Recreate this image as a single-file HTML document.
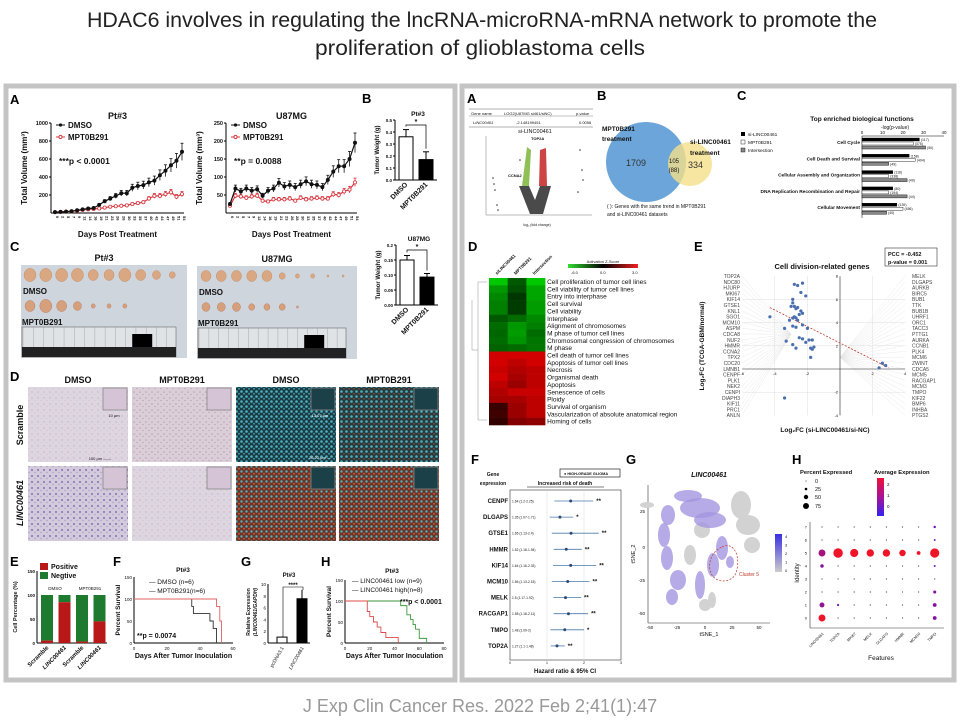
<!DOCTYPE html>
<html><head><meta charset="utf-8"><style>
body{margin:0;background:#fff;width:960px;height:720px;overflow:hidden}
svg{display:block;font-family:"Liberation Sans",sans-serif}
</style></head><body>
<svg id="fig" width="960" height="720" viewBox="0 0 960 720" xmlns="http://www.w3.org/2000/svg">
<defs>
<pattern id="pinkTex" width="6" height="6" patternUnits="userSpaceOnUse"><rect width="6" height="6" fill="#ddd5e0"/><circle cx="2" cy="2" r="0.7" fill="#c9b2c6"/><circle cx="5" cy="4.5" r="0.5" fill="#d0b8cb"/></pattern>
<pattern id="pinkTex2" width="6" height="6" patternUnits="userSpaceOnUse"><rect width="6" height="6" fill="#dacfd8"/><circle cx="2" cy="2" r="0.8" fill="#c39db5"/><circle cx="5" cy="4.5" r="0.6" fill="#b993ad"/></pattern>
<pattern id="purpTex" width="6" height="6" patternUnits="userSpaceOnUse"><rect width="6" height="6" fill="#d3cadc"/><circle cx="2" cy="2" r="1.1" fill="#8f80bb"/><circle cx="5" cy="4.5" r="0.7" fill="#a89bc9"/></pattern>
<pattern id="fluTex" width="5" height="5" patternUnits="userSpaceOnUse"><rect width="5" height="5" fill="#1b3a42"/><circle cx="1.5" cy="1.5" r="1.3" fill="#4db3c2"/><circle cx="4" cy="3.8" r="1" fill="#3a97a6"/></pattern>
<pattern id="fluTex3" width="5" height="5" patternUnits="userSpaceOnUse"><rect width="5" height="5" fill="#273a3e"/><circle cx="1.5" cy="1.5" r="1.3" fill="#4fb0bd"/><circle cx="4" cy="3.8" r="0.9" fill="#7a4a3a"/></pattern>
<pattern id="fluTex2" width="5" height="5" patternUnits="userSpaceOnUse"><rect width="5" height="5" fill="#6a3428"/><circle cx="1.5" cy="1.5" r="1.2" fill="#55b0bb"/><circle cx="4" cy="3.8" r="1" fill="#c8552e"/></pattern>
<linearGradient id="zgrad" x1="0" x2="1"><stop offset="0" stop-color="#33dd33"/><stop offset="0.5" stop-color="#000"/><stop offset="1" stop-color="#ee2222"/></linearGradient>
<linearGradient id="avgrad" x1="0" y1="1" x2="0" y2="0"><stop offset="0" stop-color="#3322ee"/><stop offset="0.5" stop-color="#aa1199"/><stop offset="1" stop-color="#ee1133"/></linearGradient>
<linearGradient id="tsgrad" x1="0" y1="1" x2="0" y2="0"><stop offset="0" stop-color="#cccccc"/><stop offset="1" stop-color="#3a2ee0"/></linearGradient>
</defs>

<text x="482" y="27" text-anchor="middle" font-size="21" fill="#222" textLength="790" lengthAdjust="spacingAndGlyphs">HDAC6 involves in regulating the lncRNA-microRNA-mRNA network to promote the</text>
<text x="480" y="55" text-anchor="middle" font-size="21" fill="#222" textLength="330" lengthAdjust="spacingAndGlyphs">proliferation of glioblastoma cells</text>
<text x="480" y="712" text-anchor="middle" font-size="18" fill="#999">J Exp Clin Cancer Res. 2022 Feb 2;41(1):47</text>

<rect x="6" y="86" width="449" height="594" fill="#fff" stroke="#c4c4c4" stroke-width="5"/>
<rect x="462" y="86" width="492" height="594" fill="#fff" stroke="#c4c4c4" stroke-width="5"/>

<g id="L" font-weight="bold"></g>
<g id="R"></g>
</svg>
<script>
const NS='http://www.w3.org/2000/svg';
function mk(tag,at,par,txt){const e=document.createElementNS(NS,tag);for(const k in at)e.setAttribute(k,at[k]);if(txt!==undefined)e.textContent=txt;par.appendChild(e);return e;}
const L=document.getElementById('L'), R=document.getElementById('R');

/* ---------- DATA ---------- */
const ptDays=[0,2,5,7,9,12,14,16,19,21,23,26,28,30,33,35,37,40,42,44,47,49,51,54];
const ptDMSO=[10,12,15,20,30,40,50,55,90,130,160,190,220,220,280,300,310,340,360,420,470,530,580,680];
const ptMPT=[10,12,15,20,25,35,40,45,50,60,70,75,80,85,100,110,120,160,190,190,210,230,180,210];
const uDMSO=[25,68,60,68,62,66,48,62,68,84,74,78,72,80,88,80,78,72,92,115,130,130,150,195];
const uMPT=[20,48,46,42,46,48,34,32,38,38,38,40,34,42,38,40,42,40,40,52,50,60,65,85];
const bPtVals=[0.36,0.17], bPtErr=[0.06,0.065];
const bUVals=[0.15,0.093], bUErr=[0.015,0.012];
const eCats=['Scramble','LINC00461','Scramble','LINC00461'];
const ePositive=[5,85,3,45];
const fDMSO=[[0,100],[35,83],[36,67],[46,50],[48,33],[50,0]];
const fMPT=[[0,100],[50,83],[52,50],[53,0]];
const gCats=['pcDNA3.1','LINC00461'], gVals=[1,7.5], gErr=[0.1,1.5];
const hLow=[[0,100],[45,89],[50,67],[53,56],[55,44],[57,33],[60,11],[66,0]];
const hHigh=[[0,100],[18,75],[20,63],[23,50],[26,38],[29,25],[33,13],[43,0]];

function label(x,y,t,par,size){const e=mk('text',{x:x,y:y,'font-size':size||13,'font-weight':'bold',fill:'#000'},par,t);return e;}
function txt(x,y,t,par,opt){const a={x:x,y:y,'font-size':7,fill:'#111'};Object.assign(a,opt||{});const e=mk('text',a,par,t);return e;}

/* ---------- Left A ---------- */
label(10,104,'A',L);
function growth(x0,x1,y0,y1,ymax,ticks,dmso,mpt,title,ptxt,name){
  const g=mk('g',{},L);
  
  
  const sx=i=>x0+4+i*(x1-x0-6)/(dmso.length-1), sy=v=>y1-v/ymax*(y1-y0);
  mk('line',{x1:x0,y1:y0,x2:x0,y2:y1,stroke:'#000','stroke-width':1},g);
  mk('line',{x1:x0,y1:y1,x2:x1,y2:y1,stroke:'#000','stroke-width':1},g);
  ticks.forEach(t=>{mk('line',{x1:x0-2,x2:x0,y1:sy(t),y2:sy(t),stroke:'#000'},g);const tt=txt(x0-3,sy(t)+2,String(t),g,{'font-size':5.5,'text-anchor':'end'});});
  dmso.forEach((v,i)=>{const tk=txt(sx(i)+1,y1+3,String(ptDays[i]),g,{'font-size':4,transform:'rotate(90 '+(sx(i)+1)+' '+(y1+3)+')'});});
  [[mpt,'#d9363e','#fff','mpt-series'],[dmso,'#111','#111','dmso-series']].forEach(([arr,c,f,n])=>{
    const s=mk('g',{},g);
    
    
    mk('polyline',{points:arr.map((v,i)=>sx(i)+','+sy(v)).join(' '),fill:'none',stroke:c,'stroke-width':1.2},s);
    arr.forEach((v,i)=>{const e=Math.max(v*0.14,2)*(y1-y0)/ymax;
      mk('line',{x1:sx(i),x2:sx(i),y1:sy(v)-e,y2:sy(v)+e,stroke:c,'stroke-width':0.8},s);
      mk('line',{x1:sx(i)-1.5,x2:sx(i)+1.5,y1:sy(v)-e,y2:sy(v)-e,stroke:c,'stroke-width':0.8},s);
      const p=mk('circle',{cx:sx(i),cy:sy(v),r:1.6,fill:f,stroke:c,'stroke-width':0.8},s);
      
      });
  });
  txt((x0+x1)/2,y0-4,title,g,{'font-size':9,'font-weight':'bold','text-anchor':'middle'});
  mk('line',{x1:x0+5,x2:x0+14,y1:y0+2,y2:y0+2,stroke:'#111'},g);mk('circle',{cx:x0+9.5,cy:y0+2,r:1.6,fill:'#111'},g);
  txt(x0+17,y0+5,'DMSO',g,{'font-size':8,'font-weight':'bold'});
  mk('line',{x1:x0+5,x2:x0+14,y1:y0+14,y2:y0+14,stroke:'#d9363e'},g);mk('circle',{cx:x0+9.5,cy:y0+14,r:1.6,fill:'#fff',stroke:'#d9363e'},g);
  txt(x0+17,y0+17,'MPT0B291',g,{'font-size':8,'font-weight':'bold'});
  txt(x0+8,y0+41,ptxt,g,{'font-size':8.5,'font-weight':'bold'});
  txt((x0+x1)/2,237,'Days Post Treatment',g,{'font-size':8,'font-weight':'bold','text-anchor':'middle'});
  const yl=txt(x0-24,(y0+y1)/2,'Total Volume (mm³)',g,{'font-size':8,'font-weight':'bold','text-anchor':'middle',transform:'rotate(-90 '+(x0-24)+' '+((y0+y1)/2)+')'});
  
  
}
growth(51,184,123,213,1000,[200,400,600,800,1000],ptDMSO,ptMPT,'Pt#3','***p < 0.0001','growth-chart-pt3');
growth(226,357,123,213,250,[50,100,150,200,250],uDMSO,uMPT,'U87MG','**p = 0.0088','growth-chart-u87mg');

/* ---------- Left B ---------- */
label(362,103,'B',L);
function wbar(x0,y0,y1,ymax,ticks,vals,err,title,name){
  const g=mk('g',{},L);
  
  
  const x1=x0+42, sy=v=>y1-v/ymax*(y1-y0);
  mk('line',{x1:x0,x2:x0,y1:y0,y2:y1,stroke:'#000'},g);mk('line',{x1:x0,x2:x1,y1:y1,y2:y1,stroke:'#000'},g);
  ticks.forEach(t=>{mk('line',{x1:x0-2,x2:x0,y1:sy(t),y2:sy(t),stroke:'#000'},g);txt(x0-3,sy(t)+2,t.toFixed(t<0.2&&ticks[1]<0.1?2:1),g,{'font-size':4.5,'text-anchor':'end'});});
  ['DMSO','MPT0B291'].forEach((c,i)=>{const bx=x0+4+i*20;
    const b=mk('rect',{x:bx,y:sy(vals[i]),width:14,height:y1-sy(vals[i]),fill:i?'#000':'#fff',stroke:'#000'},g);
    
    
    mk('line',{x1:bx+7,x2:bx+7,y1:sy(vals[i]+err[i]),y2:sy(vals[i]),stroke:'#000'},g);
    mk('line',{x1:bx+4,x2:bx+10,y1:sy(vals[i]+err[i]),y2:sy(vals[i]+err[i]),stroke:'#000'},g);
    txt(bx+9,y1+5,c,g,{'font-size':7,'text-anchor':'end',transform:'rotate(-45 '+(bx+9)+' '+(y1+5)+')'});});
  mk('polyline',{points:(x0+11)+','+(sy(vals[0]+err[0])-3)+' '+(x0+11)+','+(y0+5)+' '+(x0+31)+','+(y0+5)+' '+(x0+31)+','+(sy(vals[1]+err[1])-3),fill:'none',stroke:'#000','stroke-width':0.7},g);
  txt(x0+21,y0+4,'*',g,{'font-size':7,'text-anchor':'middle'});
  txt(x0+23,y0-4,title,g,{'font-size':6.5,'font-weight':'bold','text-anchor':'middle'});
  txt(x0-16,(y0+y1)/2,'Tumor Weight (g)',g,{'font-size':6,'font-weight':'bold','text-anchor':'middle',transform:'rotate(-90 '+(x0-16)+' '+((y0+y1)/2)+')'});
}
wbar(395,120,180,0.5,[0,0.1,0.2,0.3,0.4,0.5],bPtVals,bPtErr,'Pt#3','tumor-weight-pt3');
wbar(396,245,305,0.20,[0,0.05,0.10,0.15,0.20],bUVals,bUErr,'U87MG','tumor-weight-u87mg');

/* ---------- Left C ---------- */
label(10,251,'C',L);
function photo(x,y,w,h,title,top,bot,name){
  const g=mk('g',{},L);
  
  
  mk('rect',{x:x,y:y,width:w,height:h,fill:'#cfd5dc'},g);
  txt(x+w/2,y-4,title,g,{'font-size':9,'font-weight':'bold','text-anchor':'middle'});
  top.forEach((r,i)=>mk('ellipse',{cx:x+9+i*w/10.5,cy:y+10,rx:r,ry:r*1.1,fill:'#d9a882',stroke:'#c4906a','stroke-width':0.5},g));
  bot.forEach((r,i)=>mk('ellipse',{cx:x+9+i*w/10.5,cy:y+41,rx:r,ry:r*1.1,fill:'#d7a07d',stroke:'#b98062','stroke-width':0.5},g));
  txt(x+2,y+29,'DMSO',g,{'font-size':8,'font-weight':'bold'});
  txt(x+1,y+60,'MPT0B291',g,{'font-size':8,'font-weight':'bold'});
  mk('rect',{x:x+1,y:y+62,width:w-12,height:30,fill:'#dfe3e6',stroke:'#555','stroke-width':0.5},g);
  for(let i=0;i<15;i++)mk('line',{x1:x+2+i*(w-12)/15,x2:x+2+i*(w-12)/15,y1:y+62,y2:y+82,stroke:'#999','stroke-width':0.4},g);
  mk('rect',{x:x+1,y:y+82,width:w-12,height:10,fill:'#222'},g);
  mk('rect',{x:x+w*0.67,y:y+69,width:20,height:13,fill:'#000'},g);
}
photo(21,265,166,93,'Pt#3',[6,6,6,6,5,5,6,5,4,3],[5,6,5,4,2,2,2],'tumor-photo-pt3');
photo(197,266,160,93,'U87MG',[5,5,5,5,5,3,2,2,1,1],[4,4,4,3,3,3,1],'tumor-photo-u87mg');

/* ---------- Left D ---------- */
label(10,381,'D',L);
const dCols=['DMSO','MPT0B291','DMSO','MPT0B291'];
const dX=[28,132,236,339];
const dFill=[['url(#pinkTex)','url(#pinkTex2)','url(#fluTex)','url(#fluTex3)'],['url(#purpTex)','url(#pinkTex)','url(#fluTex2)','url(#fluTex2)']];
dCols.forEach((c,i)=>{const t=txt(dX[i]+50,383,c,L,{'font-size':9,'font-weight':'bold','text-anchor':'middle'});});
[0,1].forEach(r=>dX.forEach((x,i)=>{const y=r?466:387;
  const im=mk('rect',{x:x,y:y,width:100,height:75,fill:dFill[r][i]},L);
  
  
  mk('rect',{x:x+75,y:y+1,width:24,height:22,fill:i<2?'#d5c4d5':'#1c4048',stroke:'#888','stroke-width':0.8},L);}));
txt(23,425,'Scramble',L,{'font-size':9,'text-anchor':'middle',transform:'rotate(-90 23 425)'});
txt(23,503,'LINC00461',L,{'font-size':9,'font-style':'italic','text-anchor':'middle',transform:'rotate(-90 23 503)'});
txt(114,417,'10 μm',L,{'font-size':4,'font-weight':'normal','text-anchor':'middle'});
txt(100,460,'100 μm ——',L,{'font-size':4,'font-weight':'normal','text-anchor':'middle'});
txt(320,417,'13.07 μm',L,{'font-size':4,'font-weight':'normal','fill':'#fff','text-anchor':'middle'});
txt(320,459,'26.22 μm —',L,{'font-size':4,'font-weight':'normal','fill':'#fff','text-anchor':'middle'});

/* ---------- Left E ---------- */
label(10,566,'E',L);
(function(){const g=mk('g',{},L);
  
  
  const x0=37,y0=571,y1=643,sy=v=>y1-v/150*(y1-y0);
  mk('line',{x1:x0,x2:x0,y1:y0,y2:y1,stroke:'#000'},g);mk('line',{x1:x0,x2:107,y1:y1,y2:y1,stroke:'#000'},g);
  [0,50,100,150].forEach(t=>txt(x0-2,sy(t)+2,String(t),g,{'font-size':4.5,'text-anchor':'end'}));
  eCats.forEach((c,i)=>{const bx=x0+4+i*17.5;
    const n=mk('rect',{x:bx,y:sy(100),width:12,height:sy(ePositive[i])-sy(100),fill:'#1e7a2e'},g);
    
    
    const p=mk('rect',{x:bx,y:sy(ePositive[i]),width:12,height:y1-sy(ePositive[i]),fill:'#b81818'},g);
    
    
    txt(bx+8,y1+5,c,g,{'font-size':6,'font-style':i%2?'italic':'normal','text-anchor':'end',transform:'rotate(-45 '+(bx+8)+' '+(y1+5)+')'});});
  mk('rect',{x:40,y:563,width:8,height:7,fill:'#b81818'},g);txt(51,569,'Positive',g,{'font-size':7});
  mk('rect',{x:40,y:572,width:8,height:7,fill:'#1e7a2e'},g);txt(51,578,'Negtive',g,{'font-size':7});
  txt(55,590,'DMSO',g,{'font-size':4.5,'font-weight':'normal','text-anchor':'middle'});txt(90,590,'MPT0B291',g,{'font-size':4.5,'font-weight':'normal','text-anchor':'middle'});
  txt(17,607,'Cell Percentage (%)',g,{'font-size':5.5,'text-anchor':'middle',transform:'rotate(-90 17 607)'});
})();

function surv(x0,x1,y0,y1,xmax,series,colors,name){
  const g=mk('g',{},L);
  
  
  const sx=v=>x0+v/xmax*(x1-x0), sy=v=>y1-v/150*(y1-y0);
  mk('line',{x1:x0,x2:x0,y1:y0,y2:y1,stroke:'#000'},g);mk('line',{x1:x0,x2:x1,y1:y1,y2:y1,stroke:'#000'},g);
  [0,50,100,150].forEach(t=>txt(x0-2,sy(t)+2,String(t),g,{'font-size':4.5,'font-weight':'normal','text-anchor':'end'}));
  for(let t=0;t<=xmax;t+=20)txt(sx(t),y1+7,String(t),g,{'font-size':4.5,'font-weight':'normal','text-anchor':'middle'});
  series.forEach((s,k)=>{let p='';s.forEach((pt,i)=>{if(i)p+=' '+sx(pt[0])+','+sy(s[i-1][1]);p+=' '+sx(pt[0])+','+sy(pt[1]);});
    const l=mk('polyline',{points:p,fill:'none',stroke:colors[k],'stroke-width':0.9},g);
    
    });
  txt((x0+x1)/2,y1+15,'Days After Tumor Inoculation',g,{'font-size':7,'text-anchor':'middle'});
  txt(x0-14,(y0+y1)/2,'Percent Survival',g,{'font-size':6.5,'text-anchor':'middle',transform:'rotate(-90 '+(x0-14)+' '+((y0+y1)/2)+')'});
  return g;
}
label(113,566,'F',L);
let gF=surv(134,233,577,643,60,[fDMSO,fMPT],['#333','#e06060'],'survival-chart-mpt');
txt(183,572,'Pt#3',gF,{'font-size':6.5,'text-anchor':'middle'});
txt(149,584,'— DMSO       (n=6)',gF,{'font-size':6.5,'font-weight':'normal'});
txt(149,593,'— MPT0B291(n=6)',gF,{'font-size':6.5,'font-weight':'normal'});
txt(137,638,'**p = 0.0074',gF,{'font-size':7});
label(241,566,'G',L);
(function(){const g=mk('g',{},L);
  
  
  const x0=268,y0=584,y1=643,sy=v=>y1-v/10*(y1-y0);
  mk('line',{x1:x0,x2:x0,y1:y0,y2:y1,stroke:'#000'},g);mk('line',{x1:x0,x2:310,y1:y1,y2:y1,stroke:'#000'},g);
  [0,2,4,6,8,10].forEach(t=>txt(x0-2,sy(t)+2,String(t),g,{'font-size':4.5,'font-weight':'normal','text-anchor':'end'}));
  gCats.forEach((c,i)=>{const bx=x0+9+i*20;
    const b=mk('rect',{x:bx,y:sy(gVals[i]),width:10,height:y1-sy(gVals[i]),fill:i?'#000':'#fff',stroke:'#000'},g);
    
    
    mk('line',{x1:bx+5,x2:bx+5,y1:sy(gVals[i]+gErr[i]),y2:sy(gVals[i]),stroke:'#000'},g);
    txt(bx+7,y1+5,c,g,{'font-size':5,'font-weight':'normal','font-style':i?'italic':'normal','text-anchor':'end',transform:'rotate(-60 '+(bx+7)+' '+(y1+5)+')'});});
  mk('polyline',{points:'283,637 283,587 303,587 303,590',fill:'none',stroke:'#000','stroke-width':0.6},g);
  txt(293,587,'****',g,{'font-size':6,'text-anchor':'middle'});
  txt(289,577,'Pt#3',g,{'font-size':6,'text-anchor':'middle'});
  txt(250,612,'Relative Expression',g,{'font-size':5,'text-anchor':'middle',transform:'rotate(-90 250 612)'});
  txt(257,612,'(LINC00461/GAPDH)',g,{'font-size':5,'font-style':'italic','text-anchor':'middle',transform:'rotate(-90 257 612)'});
})();
label(321,566,'H',L);
let gH=surv(345,444,580,643,80,[hLow,hHigh],['#3a9a3a','#e04a4a'],'survival-chart-linc00461');
txt(392,573,'Pt#3',gH,{'font-size':6.5,'text-anchor':'middle'});
txt(352,583,'— LINC00461 low (n=9)',gH,{'font-size':6.5,'font-weight':'normal'});
txt(352,592,'— LINC00461 high(n=8)',gH,{'font-size':6.5,'font-weight':'normal'});
txt(400,604,'***p < 0.0001',gH,{'font-size':7});

/* ================= RIGHT PANEL ================= */
label(467,103,'A',R);
(function(){const g=mk('g',{},R);
  
  
  mk('line',{x1:469,x2:593,y1:109,y2:109,stroke:'#666','stroke-width':0.6},g);
  mk('line',{x1:469,x2:593,y1:116,y2:116,stroke:'#666','stroke-width':0.4},g);
  mk('line',{x1:469,x2:593,y1:127,y2:127,stroke:'#666','stroke-width':0.6},g);
  txt(471,115,'Gene name',g,{'font-size':4});txt(504,115,'LOG2(U87MG si461/siNC)',g,{'font-size':4});txt(576,115,'p-value',g,{'font-size':4});
  txt(473,124,'LINC00461',g,{'font-size':4,'font-style':'italic'});txt(516,124,'-2.148199451',g,{'font-size':4});txt(579,124,'0.0056',g,{'font-size':4});
  txt(535,133,'si-LINC00461',g,{'font-size':5.5,'text-anchor':'middle'});
  mk('polygon',{points:'519,186 529,186 535,200 540,186 551,186 543,214 530,214',fill:'#4a4a4a'},g);
  mk('polygon',{points:'522,186 529,186 531,150 527,147',fill:'#8fc055'},g);
  mk('polygon',{points:'539,186 547,186 546,148 540,150',fill:'#cc4444'},g);
  [[520,160],[493,178],[494,184],[495,190],[580,150],[582,170],[583,180],[578,192],[497,205],[498,210]].forEach(p=>mk('circle',{cx:p[0],cy:p[1],r:0.8,fill:'#333'},g));
  mk('line',{x1:486,x2:486,y1:136,y2:215,stroke:'#555','stroke-width':0.4},g);
  mk('line',{x1:486,x2:592,y1:215,y2:215,stroke:'#555','stroke-width':0.4},g);
  txt(531,140,'TOP2A',g,{'font-size':4,'font-weight':'bold'});txt(508,177,'CCNA2',g,{'font-size':4,'font-weight':'bold'});
  txt(537,226,'log₂ (fold change)',g,{'font-size':3.5,'text-anchor':'middle'});
})();

label(597,100,'B',R);
(function(){const g=mk('g',{},R);
  
  
  const a=mk('circle',{cx:646,cy:162,r:40,fill:'#5b9bd5',opacity:0.9},g);
  
  
  const b=mk('circle',{cx:690,cy:164,r:22,fill:'#f5e08a',opacity:0.8},g);
  
  
  txt(602,131,'MPT0B291',g,{'font-size':6.5,'font-weight':'bold'});txt(602,141,'treatment',g,{'font-size':6.5,'font-weight':'bold'});
  txt(690,144,'si-LINC00461',g,{'font-size':6.5,'font-weight':'bold'});txt(690,155,'treatment',g,{'font-size':6.5,'font-weight':'bold'});
  txt(626,166,'1709',g,{'font-size':9,fill:'#333'});txt(688,168,'334',g,{'font-size':9,fill:'#333'});
  txt(674,163,'105',g,{'font-size':6,'text-anchor':'middle'});txt(674,172,'(88)',g,{'font-size':6,'text-anchor':'middle'});
  txt(607,208,'( ): Genes with the same trend in MPT0B291',g,{'font-size':5});
  txt(607,216,'and si-LINC00461 datasets',g,{'font-size':5});
})();

label(737,100,'C',R);
const cCats=['Cell Cycle','Cell Death and Survival','Cellular Assembly and Organization','DNA Replication Recombination and Repair','Cellular Movement'];
const cSi=[28,23,15,15,17], cMpt=[25,26,13,13,20], cInt=[31,13,22,22,12];
const cSiN=['117','158','116','80','139'], cMptN=['375','404','338','194','456'], cIntN=['50','49','49','44','40'];
(function(){const g=mk('g',{},R);
  
  
  const x0=862,sx=v=>x0+v/40*82;
  txt(862,121,'Top enriched biological functions',g,{'font-size':6.5,'font-weight':'bold','text-anchor':'middle'});
  txt(895,129,'-log(p-value)',g,{'font-size':5,'text-anchor':'middle'});
  mk('line',{x1:x0,x2:sx(40),y1:136,y2:136,stroke:'#000','stroke-width':0.5},g);
  [0,10,20,30,40].forEach(t=>txt(sx(t),134,String(t),g,{'font-size':4.5,'text-anchor':'middle'}));
  mk('line',{x1:x0,x2:x0,y1:136,y2:218,stroke:'#000','stroke-width':0.5},g);
  cCats.forEach((c,i)=>{const y=138+i*16.3;
    txt(x0-2,y+6,c,g,{'font-size':4.8,'font-weight':'bold','text-anchor':'end'});
    [[cSi,'#000',cSiN],[cMpt,'#fff',cMptN],[cInt,'#888',cIntN]].forEach(([arr,f,nn],k)=>{
      const b=mk('rect',{x:x0,y:y+k*4,width:sx(arr[i])-x0,height:3,fill:f,stroke:'#000','stroke-width':0.4},g);
      
      
      txt(sx(arr[i])+1.5,y+k*4+3,'('+nn[i]+')',g,{'font-size':3.5});});});
  mk('rect',{x:741,y:132,width:4,height:4,fill:'#000'},g);txt(748,136,'si-LINC00461',g,{'font-size':4.8});
  mk('rect',{x:741,y:140,width:4,height:4,fill:'#fff',stroke:'#000','stroke-width':0.4},g);txt(748,144,'MPT0B291',g,{'font-size':4.8});
  mk('rect',{x:741,y:148,width:4,height:4,fill:'#888',stroke:'#000','stroke-width':0.4},g);txt(748,152,'Intersection',g,{'font-size':4.8});
})();

label(468,251,'D',R);
const dRows=['Cell proliferation of tumor cell lines','Cell viability of tumor cell lines','Entry into interphase','Cell survival','Cell viability','Interphase','Alignment of chromosomes','M phase of tumor cell lines','Chromosomal congression of chromosomes','M phase','Cell death of tumor cell lines','Apoptosis of tumor cell lines','Necrosis','Organismal death','Apoptosis','Senescence of cells','Ploidy','Survival of organism','Vascularization of absolute anatomical region','Homing of cells'];
const zSi=[-4,-2.5,-2.2,-2,-2,-1.2,-1.6,-1.5,-1.6,-1.4,3,3,2.8,3,2.6,2.4,2.2,0.3,0.4,0.2];
const zMpt=[-1.2,-1,-0.5,-0.6,-0.6,-1.6,-2.5,-2.6,-2.4,-1.6,3,2.6,2.4,2.2,2,2.8,2.2,2,2,1.6];
const zInt=[-4,-2.8,-2.8,-2.6,-2.6,-2.2,-2,-1.6,-1.8,-1.8,3,3,2.6,2.6,2.6,2.8,2.6,2.6,2.6,1.8];
(function(){const g=mk('g',{},R);
  
  
  const col=z=>{const t=Math.min(Math.abs(z)/3.5,1);return z<0?'rgb(0,'+Math.round(30+170*t)+',0)':'rgb('+Math.round(40+200*t)+',0,0)';};
  const x0=489,w=18.7,y0=278,h=7.35;
  [zSi,zMpt,zInt].forEach((arr,c)=>arr.forEach((z,r)=>{const cell=mk('rect',{x:x0+c*w,y:y0+r*h,width:w+0.3,height:h+0.3,fill:col(z)},g);
    
    }));
  dRows.forEach((t,r)=>txt(x0+3*w+2,y0+r*h+6,t,g,{'font-size':6.5,fill:'#111'}));
  ['siLINC00461','MPT0B291','Intersection'].forEach((t,c)=>txt(x0+c*w+8,y0-3,t,g,{'font-size':4.5,'font-weight':'bold',transform:'rotate(-45 '+(x0+c*w+8)+' '+(y0-3)+')'}));
  mk('rect',{x:568,y:264,width:70,height:4,fill:'url(#zgrad)'},g);
  txt(603,263,'Activation Z-Score',g,{'font-size':4,'text-anchor':'middle'});
  txt(571,274,'-6.0',g,{'font-size':4});txt(600,274,'0.0',g,{'font-size':4});txt(632,274,'3.0',g,{'font-size':4});
  mk('path',{d:'M487,282 H478 V420 H487 M478,350 H472 V300',fill:'none',stroke:'#777','stroke-width':0.4},g);
})();

label(694,251,'E',R);
const eGenesL=['TOP2A','NDC80','HJURP','MKI67','KIF14','GTSE1','KNL1','SGO1','MCM10','ASPM','CDCA8','NUF2','HMMR','CCNA2','TPX2','CDC20','LMNB1','CENPF','PLK1','NEK2','CENPI','DIAPH3','KIF11','PRC1','ANLN'];
const eGenesR=['MELK','DLGAPS','AURKB','BIRC5','BUB1','TTK','BUB1B','UHRF1','ORC1','TACC3','PTTG1','AURKA','CCNB1','PLK4','MCM6','ZWINT','CDCA5','MCM5','RACGAP1','MCM3','TMPO','KIF22','BMP6','INHBA','PTGS2'];
const eX=[-2.8,-2.6,-2.3,-2.4,-2.1,-2.9,-2.9,-2.8,-3,-2.7,-2.6,-2.4,-2.5,-2.3,-2.9,-2.7,-2.8,-3.1,-2.6,-4.3,-3.4,-2.9,-2.7,-2.3,-2,-3.3,-2.5,-2.3,-1.9,-1.7,-1.6,-2.1,-2.9,-2.7,-1.8,-1.7,-1.8,2.6,2.8,2.4,-3.4];
const eY=[7.3,7.2,7.4,6.6,6.3,6,5.7,5.4,5.4,5.2,5.3,5,4.7,4.8,4.4,4.4,4.5,4.2,4.2,4.5,3.5,3.7,3.6,3.8,3.5,2.4,2.7,2.6,2.5,2.5,1.9,2.3,2.1,1.8,1.8,1.7,1,0.5,0.3,0.1,-2.5];
(function(){const g=mk('g',{},R);
  
  
  const sx=v=>840+v*16.3, sy=v=>369-v*11.6;
  [-4,-2,2].forEach(t=>mk('line',{x1:sx(t),x2:sx(t),y1:sy(8),y2:sy(-4),stroke:'#ddd','stroke-width':0.5},g));
  [6,4,2,-2].forEach(t=>mk('line',{x1:sx(-6),x2:sx(4),y1:sy(t),y2:sy(t),stroke:'#ddd','stroke-width':0.5},g));
  eGenesL.forEach((n,i)=>{mk('line',{x1:742,y1:276+i*5.8,x2:sx(-3),y2:sy(3),stroke:'#e4e4e4','stroke-width':0.4},g);txt(740,278+i*5.8,n,g,{'font-size':5,'text-anchor':'end',fill:'#444'});});
  eGenesR.forEach((n,i)=>{mk('line',{x1:905,y1:276+i*5.8,x2:sx(0),y2:sy(1),stroke:'#e4e4e4','stroke-width':0.4},g);txt(912,278+i*5.8,n,g,{'font-size':5,fill:'#444'});});
  mk('line',{x1:sx(0),x2:sx(0),y1:sy(8),y2:sy(-4),stroke:'#222','stroke-width':0.6},g);
  mk('line',{x1:sx(-6),x2:sx(4),y1:sy(0),y2:sy(0),stroke:'#222','stroke-width':0.6},g);
  [-6,-4,-2,2,4].forEach(t=>txt(sx(t),sy(0)+6,String(t),g,{'font-size':4,'text-anchor':'middle'}));
  [8,6,4,2,-2,-4].forEach(t=>txt(sx(0)-2,sy(t)+1.5,String(t),g,{'font-size':4,'text-anchor':'end'}));
  mk('line',{x1:sx(-4.3),y1:sy(5.3),x2:sx(3),y2:sy(0.1),stroke:'#c0392b','stroke-width':0.8,'stroke-dasharray':'2,1.5'},g);
  eX.forEach((x,i)=>{const p=mk('circle',{cx:sx(x),cy:sy(eY[i]),r:1.6,fill:'#4a6fb0'},g);
    
    });
  txt(822,269,'Cell division-related genes',g,{'font-size':7.5,'font-weight':'bold','text-anchor':'middle'});
  mk('rect',{x:885,y:248,width:52,height:18,fill:'#fff',stroke:'#333','stroke-width':0.6},g);
  txt(888,256,'PCC = -0.452',g,{'font-size':5.5,'font-weight':'bold'});txt(888,264,'p-value = 0.001',g,{'font-size':5.5,'font-weight':'bold'});
  txt(825,432,'Log₂FC (si-LINC00461/si-NC)',g,{'font-size':6.5,'font-weight':'bold','text-anchor':'middle'});
  txt(704,346,'Log₂FC (TCGA-GBM/normal)',g,{'font-size':6.5,'font-weight':'bold','text-anchor':'middle',transform:'rotate(-90 704 346)'});
})();

label(471,464,'F',R);
const fGenes=['CENPF','DLGAPS','GTSE1','HMMR','KIF14','MCM10','MELK','RACGAP1','TMPO','TOP2A'];
const fHR=[1.64,1.35,1.65,1.52,1.64,1.56,1.5,1.58,1.48,1.27];
const fLo=[1.2,1.07,1.13,1.18,1.16,1.13,1.17,1.18,1.09,1.1];
const fHi=[2.25,1.71,2.4,1.94,2.33,2.15,1.92,2.11,2,1.48];
const fStars=['**','*','**','**','**','**','**','**','*','**'];
(function(){const g=mk('g',{},R);
  
  
  const sx=v=>510+v/3*111;
  mk('rect',{x:510,y:490,width:111,height:170,fill:'none',stroke:'#333','stroke-width':0.6},g);
  [1,2].forEach(t=>mk('line',{x1:sx(t),x2:sx(t),y1:490,y2:660,stroke:'#ddd','stroke-width':0.5},g));
  [0,1,2,3].forEach(t=>txt(sx(t),664,String(t),g,{'font-size':3.5,'text-anchor':'middle'}));
  fGenes.forEach((n,i)=>{const y=501+i*16.1;
    txt(508,y+2,n,g,{'font-size':6,'font-weight':'bold','text-anchor':'end'});
    txt(512,y+1.5,fHR[i]+' ('+fLo[i]+'-'+fHi[i]+')',g,{'font-size':3.3});
    mk('line',{x1:sx(fLo[i]),x2:sx(fHi[i]),y1:y,y2:y,stroke:'#4a7aa8','stroke-width':0.8},g);
    const p=mk('circle',{cx:sx(fHR[i]),cy:y,r:1.5,fill:'#2a4a78'},g);
    
    
    txt(sx(fHi[i])+3,y+2,fStars[i],g,{'font-size':6,'font-weight':'bold'});});
  txt(493,476,'Gene',g,{'font-size':5,'font-weight':'bold','text-anchor':'middle'});
  txt(493,485,'expression',g,{'font-size':5,'font-weight':'bold','text-anchor':'middle'});
  txt(565,485,'Increased risk of death',g,{'font-size':5,'font-weight':'bold','text-anchor':'middle'});
  mk('line',{x1:527,x2:604,y1:487,y2:487,stroke:'#000','stroke-width':0.5},g);
  mk('rect',{x:560,y:469,width:60,height:8,fill:'#fff',stroke:'#000','stroke-width':0.6},g);
  txt(564,475,'● HIGH-GRADE GLIOMA',g,{'font-size':3.8,'font-weight':'bold'});
  txt(565,673,'Hazard ratio & 95% CI',g,{'font-size':6,'font-weight':'bold','text-anchor':'middle'});
})();

label(626,464,'G',R);
const tsPurple=[[688,496,14,6],[700,508,20,10],[710,520,16,8],[668,515,7,10],[664,535,6,12],[667,558,6,12],[678,580,8,10],[672,597,6,8],[700,585,5,14],[713,565,6,12],[722,548,6,12],[730,562,4,6]];
const tsGray=[[741,505,10,14],[748,525,12,10],[752,545,8,8],[702,530,8,8],[690,555,6,10],[705,605,6,6],[712,600,4,8],[647,505,7,3]];
(function(){const g=mk('g',{},R);
  
  
  txt(709,477,'LINC00461',g,{'font-size':7,'font-weight':'bold','font-style':'italic','text-anchor':'middle'});
  mk('line',{x1:648,x2:648,y1:485,y2:623,stroke:'#333','stroke-width':0.6},g);
  mk('line',{x1:648,x2:770,y1:623,y2:623,stroke:'#333','stroke-width':0.6},g);
  tsGray.forEach(e=>{const c=mk('ellipse',{cx:e[0],cy:e[1],rx:e[2],ry:e[3],fill:'#d2d2d2'},g);});
  tsPurple.forEach(e=>{const c=mk('ellipse',{cx:e[0],cy:e[1],rx:e[2],ry:e[3],fill:'#a496e0',opacity:0.8},g);});
  mk('path',{d:'M722,547 C735,540 742,560 735,575 C728,585 712,582 710,570 C708,558 715,550 722,547Z',fill:'none',stroke:'#c0392b','stroke-width':0.7,'stroke-dasharray':'2,1.5'},g);
  txt(739,576,'Cluster 5',g,{'font-size':5,fill:'#c0392b'});
  [[25,513],[0,549],[-25,582],[-50,615]].forEach(([t,y])=>txt(645,y,String(t),g,{'font-size':4.5,'text-anchor':'end'}));
  [[-50,650],[-25,677],[0,705],[25,732],[50,759]].forEach(([t,x])=>txt(x,629,String(t),g,{'font-size':4.5,'text-anchor':'middle'}));
  txt(709,636,'tSNE_1',g,{'font-size':5.5,'text-anchor':'middle'});
  txt(635,554,'tSNE_2',g,{'font-size':5.5,'text-anchor':'middle',transform:'rotate(-90 635 554)'});
  mk('rect',{x:775,y:534,width:7,height:38,fill:'url(#tsgrad)'},g);
  ['4','3','2','1','0'].forEach((t,i)=>txt(785,538+i*8.5,t,g,{'font-size':4}));
})();

label(792,464,'H',R);
const hFeat=['LINC00461','TOP2A','MKI67','MELK','DLGAPS','HMMR','MCM10','TMPO'];
const hPct=[[40,1,1,1,1,1,1,12],[20,4,1,1,1,1,1,12],[1,1,1,1,1,1,1,8],[1,1,1,1,1,1,1,1],[10,1,1,1,1,1,1,3],[40,75,55,45,45,35,12,70],[1,1,1,1,1,1,1,3],[1,1,1,1,1,1,1,5]];
const hAvg=[[2,0,0,0,0,0,0,0.3],[0.5,0,0,0,0,0,0,0.3],[0,0,0,0,0,0,0,0.3],[0,0,0,0,0,0,0,0],[0.3,0,0,0,0,0,0,0],[0.8,2,2,2,2,2,2,2],[0,0,0,0,0,0,0,0],[0,0,0,0,0,0,0,0]];
(function(){const g=mk('g',{},R);
  
  
  const sx=i=>822+i*16.1, sy=i=>618-i*13;
  const col=a=>{const t=Math.max(0,Math.min(1,(a+0.5)/2.5));return 'rgb('+Math.round(80+160*t)+',20,'+Math.round(220-180*t)+')';};
  mk('line',{x1:810,x2:810,y1:522,y2:628,stroke:'#333','stroke-width':0.6},g);
  mk('line',{x1:810,x2:944,y1:628,y2:628,stroke:'#333','stroke-width':0.6},g);
  for(let r=0;r<8;r++){txt(807,sy(r)+1.5,String(r),g,{'font-size':4,'text-anchor':'end'});
    for(let c=0;c<8;c++){const p=hPct[r][c];const d=mk('circle',{cx:sx(c),cy:sy(r),r:p<2?0.6:Math.sqrt(p)*0.55,fill:p<2?'#444':col(hAvg[r][c])},g);
      
      }}
  hFeat.forEach((f,c)=>txt(sx(c)+2,634,f,g,{'font-size':3.8,'text-anchor':'end',transform:'rotate(-45 '+(sx(c)+2)+' 634)'}));
  txt(881,660,'Features',g,{'font-size':6.5,'text-anchor':'middle'});
  txt(799,573,'Identity',g,{'font-size':6,'text-anchor':'middle',transform:'rotate(-90 799 573)'});
  txt(800,474,'Percent Expressed',g,{'font-size':5.8,'font-weight':'bold'});
  [[0,0.5,481],[25,1.3,489],[50,2.2,497],[75,3,506]].forEach(([t,r,y])=>{mk('circle',{cx:806,cy:y,r:r,fill:'#000'},g);txt(815,y+2,String(t),g,{'font-size':5.5});});
  txt(874,474,'Average Expression',g,{'font-size':5.8,'font-weight':'bold'});
  mk('rect',{x:877,y:478,width:7,height:38,fill:'url(#avgrad)'},g);
  txt(887,486,'2',g,{'font-size':4.5});txt(887,497,'1',g,{'font-size':4.5});txt(887,508,'0',g,{'font-size':4.5});
})();
</script>
</body></html>
